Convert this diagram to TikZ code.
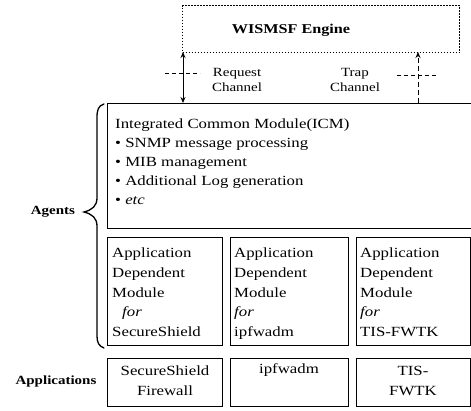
\documentclass[tikz,border=0pt]{standalone}
\usepackage{fontspec}
\setmainfont{Liberation Serif}[FakeStretch=1.2]
\usetikzlibrary{arrows.meta}
\begin{document}
\begin{tikzpicture}[x=1pt,y=-1pt,
  box/.style={draw, line width=0.8pt, inner sep=0pt, anchor=north west},
  dotbox/.style={draw, line width=1.4pt, dash pattern=on 1.4pt off 1.6pt, inner sep=0pt, anchor=north west},
  txt/.style={anchor=mid west, inner sep=0pt, font=\fontsize{14}{19}\selectfont},
  ctxt/.style={inner sep=0pt, align=center, font=\fontsize{14}{20}\selectfont},
  chan/.style={inner sep=0pt, align=center, font=\fontsize{12.5}{15}\selectfont},
  lab/.style={inner sep=0pt, font=\fontsize{12.5}{14}\selectfont\bfseries},
  arr/.style={line width=0.8pt, -{Stealth[length=6pt,width=5pt]}},
  tick/.style={line width=0.7pt, dash pattern=on 4pt off 3pt}
]
\useasboundingbox (0,0) rectangle (471,411);
\clip (0,0) rectangle (471,411);
% engine
\node[dotbox, minimum width=277pt, minimum height=47pt] (engine) at (182,5) {};
\node[inner sep=0pt, font=\fontsize{13.5}{16}\selectfont\bfseries] (enginetxt) at (291,30) {WISMSF Engine};
% ICM
\node[box, minimum width=450pt, minimum height=125pt] (icm) at (107,103) {};
\node[txt] (icm1) at (115,126) {Integrated Common Module(ICM)};
\node[txt] (icm2) at (115,145) {• SNMP message processing};
\node[txt] (icm3) at (115,164) {• MIB management};
\node[txt] (icm4) at (115,183) {• Additional Log generation};
\node[txt] (icm5) at (115,202) {• \itshape etc};
% agent boxes
\node[box, minimum width=115pt, minimum height=108pt] (ag1) at (107,237) {};
\node[box, minimum width=118pt, minimum height=108pt] (ag2) at (230,237) {};
\node[box, minimum width=114pt, minimum height=108pt] (ag3) at (356,237) {};
\foreach \n/\x/\fx/\last in {a/112/122/SecureShield, b/234/234/ipfwadm, c/360/360/TIS-FWTK}{
  \node[txt] (\n1) at (\x,255) {Application};
  \node[txt] (\n2) at (\x,275) {Dependent};
  \node[txt] (\n3) at (\x,295) {Module};
  \node[txt] (\n4) at (\fx,314) {\itshape for};
  \node[txt] (\n5) at (\x,334) {\last};
}
% application boxes
\node[box, minimum width=115pt, minimum height=48pt] (ap1) at (107,358) {};
\node[box, minimum width=118pt, minimum height=48pt] (ap2) at (230,358) {};
\node[box, minimum width=114pt, minimum height=48pt] (ap3) at (356,358) {};
\node[ctxt] (ap1t) at (165,381) {SecureShield\\Firewall};
\node[ctxt, anchor=mid] (ap2t) at (289,371) {ipfwadm};
\node[ctxt] (ap3t) at (413,381) {TIS-\\FWTK};
% labels
\node[lab] (agents) at (53,212) {Agents};
\node[lab] (apps) at (56,381) {Applications};
% channels
\coordinate (rqtop) at (183,52);
\coordinate (rqbot) at (183,103);
\draw[arr, {Stealth[length=6pt,width=5pt]}-{Stealth[length=6pt,width=5pt]}] (rqtop) -- (rqbot);
\coordinate (tptop) at (418,52);
\coordinate (tpbot) at (418,103);
\draw[arr, dash pattern=on 5pt off 3pt] (tpbot) -- (tptop);
\coordinate (rqL) at (165,73);
\coordinate (rqR) at (200,73);
\draw[tick] (rqL) -- (rqR);
\coordinate (tpL) at (397,75);
\coordinate (tpR) at (437,75);
\draw[tick] (tpL) -- (tpR);
\node[chan] (rqtxt) at (237,80) {Request\\Channel};
\node[chan] (tptxt) at (355,80) {Trap\\Channel};
% brace
\draw[line width=1.3pt, line cap=round] (104,104) .. controls (98,106) and (97,110) .. (97,118)
  -- (97,198) .. controls (97,206) and (92,210) .. (84,212)
  .. controls (92,214) and (97,218) .. (97,226)
  -- (97,336) .. controls (97,343) and (99,346) .. (104,348);
\end{tikzpicture}
\end{document}
